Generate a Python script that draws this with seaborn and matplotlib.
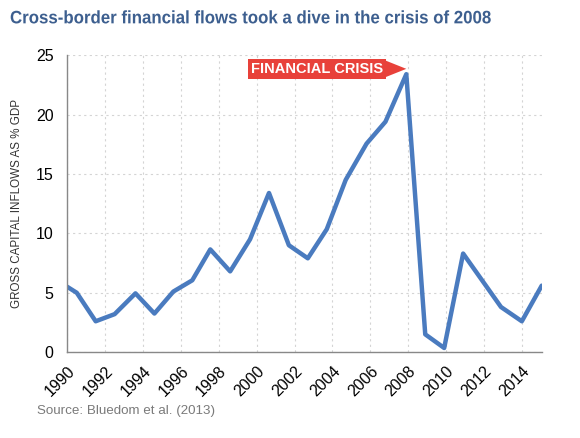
import pandas as pd
import matplotlib.pyplot as plt
import seaborn as sns
from matplotlib import patheffects
from matplotlib.transforms import Affine2D

# valores (posição no eixo dos anos e % do PIB)
years = [1990.0, 1990.5, 1991.5, 1992.5, 1993.6, 1994.6, 1995.6, 1996.6, 1997.55,
         1998.6, 1999.65, 2000.65, 2001.7, 2002.7, 2003.7, 2004.7, 2005.8, 2006.8,
         2007.9, 2008.9, 2009.9, 2010.9, 2011.9, 2012.9, 2014.0, 2015.05]
inflows = [5.5, 5.0, 2.6, 3.2, 4.95, 3.25, 5.1, 6.05, 8.65,
           6.8, 9.5, 13.4, 9.0, 7.9, 10.35, 14.5, 17.55, 19.4,
           23.4, 1.5, 0.35, 8.3, 6.05, 3.8, 2.6, 5.6]
year_ticks = list(range(1990, 2015, 2))
y_ticks = [0, 5, 10, 15, 20, 25]

AZUL = "#4a7bbf"
VERMELHO = "#e8413a"
TITULO = "#3d5f8f"


class Estreitar(patheffects.AbstractPathEffect):
    # aperta o texto na horizontal (não há fontes condensadas instaladas)
    def __init__(self, sx, x0):
        super().__init__()
        self.sx = sx
        self.x0 = x0

    def draw_path(self, renderer, gc, tpath, affine, rgbFace=None):
        t = affine + Affine2D().translate(-self.x0, 0).scale(self.sx, 1).translate(self.x0, 0)
        renderer.draw_path(gc, tpath, t, rgbFace)


df = pd.DataFrame({"year": years, "inflows": inflows})

sns.set_style("white")
plt.rcParams["font.family"] = ["Liberation Sans", "DejaVu Sans"]

fig = plt.figure(figsize=(5.8, 4.38), dpi=100)
ax = fig.add_axes([0.116, 0.196, 0.818, 0.678])

sns.lineplot(data=df, x="year", y="inflows", color=AZUL, linewidth=3.2, ax=ax)

ax.set_xlim(1990, 2015.05)
ax.set_ylim(0, 25)
ax.set_xticks(year_ticks)
ax.set_xticklabels([str(y) for y in year_ticks], rotation=45, ha="right",
                   rotation_mode="anchor", fontsize=11.5)
ax.set_yticks(y_ticks)
ax.set_yticklabels([str(v) for v in y_ticks], fontsize=11.5)
ax.tick_params(axis="both", direction="out", length=6, width=1, color="#888888",
               labelcolor="black", pad=4)
ax.tick_params(axis="x", pad=2)

ax.grid(True, color="#d4d4d4", linestyle=(0, (2, 3)), linewidth=0.8)
ax.set_axisbelow(True)
for s in ["top", "right"]:
    ax.spines[s].set_visible(False)
for s in ["left", "bottom"]:
    ax.spines[s].set_color("#888888")
    ax.spines[s].set_linewidth(1)

ax.set_xlabel("")
ax.set_ylabel("GROSS CAPITAL INFLOWS AS % GDP", fontsize=8.4, color="#333333", labelpad=9)

# anotação da crise
pico = df["inflows"].idxmax()
ax.annotate("FINANCIAL CRISIS", xy=(df.loc[pico, "year"], df.loc[pico, "inflows"] + 0.45),
            xytext=(-17, 0), textcoords="offset points", ha="right", va="center",
            fontsize=10.5, fontweight="bold", color="white",
            bbox=dict(boxstyle="square,pad=0.2", fc=VERMELHO, ec="none"),
            arrowprops=dict(arrowstyle="-|>,head_length=1.5,head_width=0.6",
                            fc=VERMELHO, ec=VERMELHO, lw=0, shrinkA=0, shrinkB=0))

titulo = fig.text(10 / 580, 0.957, "Cross-border financial flows took a dive in the crisis of 2008",
                  fontsize=13, fontweight="bold", color=TITULO, va="center")
fig.canvas.draw()
largura = titulo.get_window_extent().width
titulo.set_path_effects([Estreitar(480 / largura, 10)])

fig.text(37 / 580, 1 - 411 / 438, "Source: Bluedom et al. (2013)", fontsize=9.6,
         color="#7a7a7a", va="center")

plt.savefig("out.png", dpi=100)
plt.close()
